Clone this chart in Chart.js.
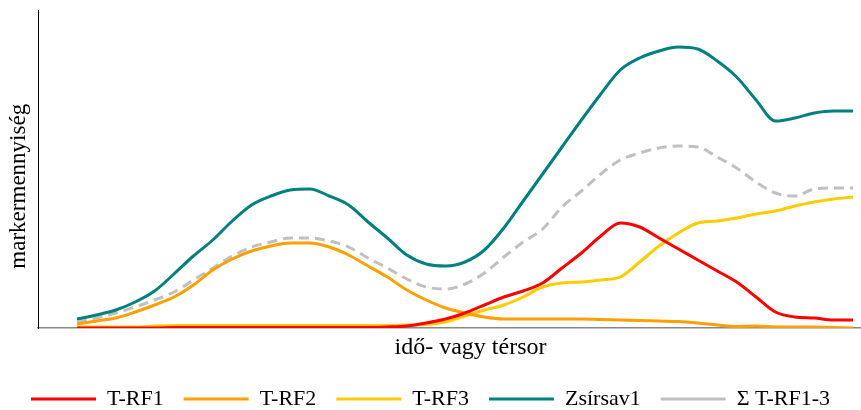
<!DOCTYPE html>
<html lang="hu">
<head>
<meta charset="utf-8"/>
<title>markermennyiség</title>
<script src="https://cdn.jsdelivr.net/npm/chart.js"></script>
<style>
  body { margin: 0; background: #fff; }
  #wrap { width: 861px; height: 410px; position: relative; }
</style>
</head>
<body>
<div id="wrap"><canvas id="chart"></canvas></div>
<script>
// sample positions along the time / space axis
const steps = [0,1,2,3,4,5,6,7,8,9,10,11,12,13,14,15,16,17,18,19,20,
  21,22,23,24,25,26,27,28,29,30,31,32,33,34,35,36,37,38,39,40];

const trf1 = [0,0,0,0,0,0.5,0.5,0.5,0.5,0.5,0.5,0.5,0.5,0.5,0.5,0.5,1,2,5,9,15,
  23,31,37,45,60,75,92,105,101,90,79,68,57,46,31,16,11,10,8,8];
const trf2 = [4,7,10,16,23,31,43,58,69,77,82,85,85,81,73,62,51,38,28,20,15,
  11,9,9,9,9,9,8.5,8,7.5,7,6.5,5,3,1.5,2,1,1,1,0.5,0];
const trf3 = [1,1,1,1,2,2.5,2.5,2.5,2.5,2.5,2.5,2.5,2.5,2.5,2.5,2.5,2.5,3,3.5,6,12,
  18,23,31,41,45,46,48,51,66,82,95,105,107,110,114,117,122,126,129,131];
const zsirsav1 = [9,13,18,26,37,54,72,88,107,123,132,138,139,132,123,106,90,73,64,62,66,
  78,100,127,154,181,208,234,258,270,277,281,279,267,251,228,207,210,215,217,217];
const szumma = [6,10,15,21,28,36,48,60,72,81,86,90,90,87,81,70,60,49,41,39,44,
  55,71,86,99,121,137,154,168,175,180,182,181,171,160,146,135,132,139,140,140];

const seriesNames = ['T-RF1', 'T-RF2', 'T-RF3', 'Zsírsav1', 'Σ T-RF1-3'];

function pts(arr) {
  return arr.map((v, i) => ({x: steps[i], y: v}));
}

function line(label, values, color, dash) {
  return {
    label: label,
    data: pts(values),
    borderColor: color,
    backgroundColor: color,
    borderWidth: 3,
    borderDash: dash || [],
    pointRadius: 0,
    pointStyle: 'line',
    cubicInterpolationMode: 'monotone',
    fill: false
  };
}

const ctx = document.getElementById('chart').getContext('2d');
new Chart(ctx, {
  type: 'line',
  data: {
    datasets: [
      line(seriesNames[0], trf1, '#FF0000'),
      line(seriesNames[1], trf2, '#FF9F00'),
      line(seriesNames[2], trf3, '#FFCC00'),
      line(seriesNames[3], zsirsav1, '#008080'),
      line(seriesNames[4], szumma, '#C0C0C0', [10, 6])
    ]
  },
  options: {
    responsive: true,
    maintainAspectRatio: false,
    animation: false,
    layout: { padding: { top: 10, left: 0, right: 0, bottom: -10 } },
    plugins: {
      tooltip: { enabled: false },
      legend: {
        position: 'bottom',
        labels: {
          usePointStyle: true,
          pointStyleWidth: 65,
          padding: 20,
          color: '#000',
          font: { family: "'Liberation Serif', 'Times New Roman', serif", size: 22 }
        }
      }
    },
    scales: {
      x: {
        type: 'linear',
        min: -2.01,
        max: 40.41,
        grid: { display: false },
        ticks: { display: false },
        border: { display: true, color: '#888888', width: 1.5 },
        title: {
          display: true,
          text: '       idő- vagy térsor',
          color: '#000',
          padding: { top: 0, bottom: 6 },
          font: { family: "'Liberation Serif', 'Times New Roman', serif", size: 24 }
        },
        afterFit: function (scale) { scale.height = 40; }
      },
      y: {
        min: 0,
        max: 318,
        grid: { display: false },
        ticks: { display: false },
        border: { display: true, color: '#000000', width: 1 },
        title: {
          display: true,
          text: 'markermennyiség      ',
          color: '#000',
          padding: { top: 5, bottom: 0 },
          font: { family: "'Liberation Serif', 'Times New Roman', serif", size: 23 }
        },
        afterFit: function (scale) { scale.width = 38; }
      }
    }
  }
});
</script>
</body>
</html>
